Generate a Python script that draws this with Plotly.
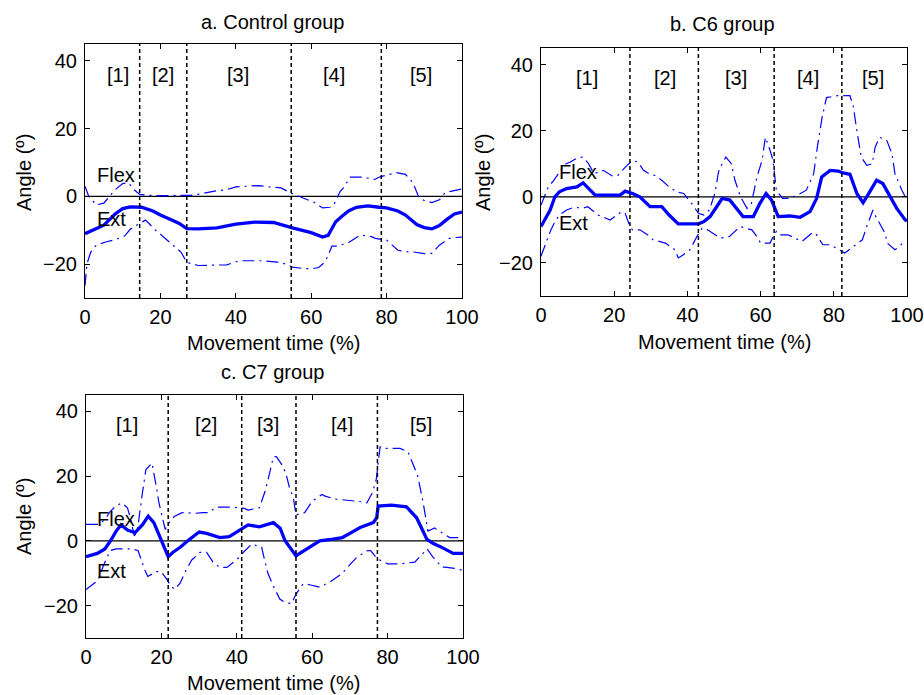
import plotly.graph_objects as go

# ---------------- data ----------------
# Panel a: Control group
a_mean_x = [0,2,5,8,10,12,15,18,20,23,25,27,30,35,40,45,50,55,60,63,64.5,65.5,66.5,68,70,72,75,78,80,83,85,88,90,92,94,96,98,100]
a_mean_y = [-11,-10,-8.5,-5.2,-3.6,-3.1,-3.2,-4.3,-5.5,-7,-8,-9.5,-9.6,-9.3,-8.2,-7.6,-7.7,-9.3,-10.7,-12,-11.5,-9.5,-7.5,-6,-4.2,-3.2,-2.8,-3.2,-3.4,-4.3,-5.5,-8.3,-9.2,-9.6,-8.6,-6.8,-5.2,-4.6]
a_up_x = [0,1,3,5,6.5,8,10,11.5,13,14.5,17,20,25,28,31,34,37.6,40,43,46,49,52,54.4,56,59,60.5,63,65,66,67.7,68.6,70.3,73.7,76.9,77.8,79,82.6,85,87,88.6,90,92,94,95.5,97,99,100]
a_up_y = [3,0,-2.5,-2,0,2,3.8,4,2,0.6,0.3,0.2,0.3,0.3,0.8,1.5,2,2.8,3,3.2,2.8,2.5,1.1,0.3,-1,-1.5,-3.4,-3.2,-2.5,1.5,2.6,5.7,5.7,5,5.6,6,7,6.5,4,-0.4,-1.2,-1.8,-1,1.1,1.5,2,2.2]
a_lo_x = [0,0.5,1.5,3,5.7,8,10.5,12,14,16,17,18.5,20,22,24,25.5,27,30,34,37.6,41,47,51,53.5,55,58,60.5,62,63.5,64.3,65.5,66.5,69.5,73,76,77,80,83,86,87,90,92,94,96.6,97.5,100]
a_lo_y = [-26.4,-20,-16.5,-14.4,-13.4,-12.8,-11.7,-9.7,-8.3,-7,-8,-9.8,-11.2,-13,-15,-16.5,-19.5,-20.4,-20.4,-20.2,-19,-19,-19.4,-20,-20.9,-21.3,-21.3,-21,-19.5,-17.9,-14.7,-14.7,-13.9,-11.4,-11.9,-12.4,-12.9,-15.9,-16.4,-16.4,-16.9,-16.8,-14.4,-12.4,-12.2,-12]
a_bounds = [14.5, 27, 54.7, 78.6]
a_phase_x = [8.7, 20.8, 40.7, 66, 89]

# Panel b: C6 group
b_mean_x = [0,1,2.5,3.8,5,7,9.8,11.5,13,14.8,18,21.6,23,25,27,29.8,33,35,37.5,40,43,44.5,46.2,48,49.5,51.6,53.5,55.2,58,59.8,61.5,63,64.8,68,70.8,73.5,75.3,76.7,79,81.2,82.5,84.4,86.3,88,89,91.7,93.4,95.4,97.2,99.5,100]
b_mean_y = [-9,-7,-4,0,1.5,2.5,3,4.2,2.5,0.5,0.5,0.5,1.7,1,0,-3,-3,-5.5,-8.2,-8.2,-8.2,-7.5,-6,-3,-0.5,-1,-3.5,-6,-6,-2,1,-1,-6,-5.8,-6.2,-4.5,-0.5,6,8,7.8,7.2,6.8,1,-1.8,0,5,4,0,-3.5,-7,-7.2]
b_up_x = [0,1,2,3.5,5,6.5,8,10,11.5,13,14.5,17,19.5,21,23.5,25,26.5,28,29.5,31,33,35,37,39,41.5,43,44.5,46,47.5,48.5,49.5,50.5,52,53,54.5,56.3,57.5,59,60.4,61.3,62.6,63.4,64.3,66,68,70,72.5,74.5,75.5,76.8,78,81,84.4,85.3,86.3,87.5,89,90.5,91.3,92.5,94.5,95.9,96.7,98.6,100]
b_up_y = [-2.5,0,3,5,7.5,9.8,10.5,11.8,12,10,7,8,6.3,6.5,9.5,11,10.5,8,7,6.5,5,3,1.5,1,-2.5,-5,-5.5,-4,1,7.5,10,12,10,5,0,-3.5,-2,6,11,18,14,11,2,-0.5,-0.5,0.5,2,7,15,24,30,30.6,30.6,27.5,20,12,9.5,10,15,18,17,13,7,2,-1]
b_lo_x = [0,1,2.7,3.6,5,7,9,11.5,12.8,15.6,18.9,22,23,24.3,25,27,29.8,30.6,32.5,34,36.6,37.5,38.8,40.7,42.6,44,45.5,47,49,51.5,54.4,57.6,59,60,62.6,63.4,64.3,65,67.5,71.3,74,75,77,79,82.2,83,86,87.8,89,90.7,91,93,94,94.6,96.7,98,99.5]
b_lo_y = [-18,-15,-10,-8,-5.5,-4,-3.2,-3.4,-3,-5.5,-7,-4.5,-5,-9,-10,-10,-12,-13,-13.5,-14,-16,-18.5,-17.6,-16,-12,-9.5,-10,-11,-12.5,-12,-9,-10,-12,-14,-14,-12,-10.5,-11.5,-11.5,-13.5,-11,-11,-14.5,-14.5,-16.5,-17,-14.5,-13,-9,-4,-5,-9,-11,-14,-16,-15,-13]
b_bounds = [24.3, 43, 63.7, 82.2]
b_phase_x = [12.6, 34, 53.3, 73, 90.7]

# Panel c: C7 group
c_mean_x = [0,3,5,6.5,8,9.3,11,13,15,16.5,18,20,21.8,23,25,27,30,32,35.5,38,40.8,43,46,49.7,51.5,52.8,55.7,57.5,59.4,62,65.5,68,70,72.7,76.2,77.1,77.5,81,85,87.7,90.4,92,94,97.4,100]
c_mean_y = [-4.9,-3.9,-2.5,0,3,4.9,3.3,2.5,5,7.6,5.6,0,-4.9,-3.6,-2,0,2.7,2.3,1,1.3,3.2,4.9,4.3,5.6,3.9,0,-4.6,-3.2,-1.8,0,0.5,1,2.3,4.1,5.6,7.1,10.7,11,10.5,7.1,0.5,-0.8,-1.8,-3.9,-3.9]
c_up_x = [0,3.5,5,6.4,8,9.5,11,12,12.8,13.6,14.9,15.9,17.5,18.3,18.8,19.3,20.4,21,22,23.4,25.5,29,31,32.5,34.6,39,42,43,46,47.5,48.5,49.7,50.5,52,53,54,55,55.7,58,60,62.6,63.4,66,70,73.5,74.5,76,77,78,78.9,83.3,85.4,86.7,88,89.4,90,90.7,92.5,93,96.5,100]
c_up_y = [5.1,5.1,6.5,9,10.8,11.7,10.2,6,1.5,3,14.3,22,24,19.4,15.8,12,7,3.5,5.5,7.5,8.7,8.5,8.7,8.7,10.4,10.4,10,9.5,10.2,15.3,19.9,25.9,26,23.4,20.9,16.3,13.3,8,8.7,12.2,14.3,13.8,12.9,12.5,12,11.7,14.9,19,29,28.5,28.5,27.5,23.5,20,12,8.2,3,4,3.5,1,1]
c_lo_x = [0,3.2,4.5,6.4,8,10,12,13.8,14.6,15.6,16.4,18.7,20,21.5,22.5,23.6,25,26.3,28,30.2,32,33.7,35.5,37.4,40.8,41.7,44,46.6,47.5,48.3,49.7,51.4,52.7,54.5,55.8,57.6,59,62,65,68,69,71.8,74.5,75.5,77.2,80,83.3,86.5,87.2,90.5,92,94.4,95.2,98.4,100]
c_lo_y = [-15,-12.2,-8,-3,-2.5,-2.5,-2.5,-3,-6,-9,-11,-9.5,-9.6,-12,-14,-15,-13,-9.6,-6,-3.6,-3.6,-6.6,-8.2,-8.2,-5,-3.6,-1,-2,-6.6,-10.2,-14,-18,-19,-19.4,-16.3,-13.3,-13.5,-14.3,-12.5,-10,-8.6,-5.1,-3.1,-3,-5.5,-7.1,-7.1,-6.6,-6.6,-2.5,-5,-8.1,-8.1,-8.6,-9.2]
c_bounds = [21.8, 41.3, 55.7, 77.3]
c_phase_x = [11, 31.8, 48.3, 68, 88.8]

phase_labels = ["[1]", "[2]", "[3]", "[4]", "[5]"]
x_ticks = [0, 20, 40, 60, 80, 100]
y_ticks = [-20, 0, 20, 40]
titles = ["a. Control group", "b. C6 group", "c. C7 group"]

# ---------------- figure ----------------
W, H = 924, 695
FONT = "Liberation Sans, Arial, sans-serif"
FS = 20
BLUE = "#0000ff"

# axes boxes in pixels: (left, right, top, bottom)
boxes = [(85, 462, 44, 298), (541, 907, 48, 296), (86, 463, 395, 638)]

panels = [
    (a_mean_x, a_mean_y, a_up_x, a_up_y, a_lo_x, a_lo_y, a_bounds, a_phase_x, (2.6, 6.3, -6.8)),
    (b_mean_x, b_mean_y, b_up_x, b_up_y, b_lo_x, b_lo_y, b_bounds, b_phase_x, (4.4, 7.5, -8.0)),
    (c_mean_x, c_mean_y, c_up_x, c_up_y, c_lo_x, c_lo_y, c_bounds, c_phase_x, (2.4, 6.6, -9.2)),
]

fig = go.Figure()
annotations = []
shapes = []
TXT = dict(family=FONT, size=FS, color="black")

for i, (panel, box) in enumerate(zip(panels, boxes)):
    mx, my, ux, uy, lx, ly, bounds, phx, flexext = panel
    n = "" if i == 0 else str(i + 1)
    xa, ya = "x" + n, "y" + n
    l, r, t, b = box
    axis_common = dict(showline=True, linecolor="black", linewidth=1, mirror="ticks",
                       ticks="inside", ticklen=5, tickcolor="black", showgrid=False,
                       zeroline=False, automargin=False, tickfont=TXT)
    fig.layout["xaxis" + n] = dict(domain=[l / W, r / W], anchor=ya, range=[0, 100],
                                   tickvals=x_ticks, ticklabelstandoff=1, **axis_common)
    fig.layout["yaxis" + n] = dict(domain=[1 - b / H, 1 - t / H], anchor=xa, range=[-30, 45],
                                   tickvals=y_ticks, ticklabelstandoff=3, **axis_common)

    # zero line
    fig.add_trace(go.Scatter(x=[0, 100], y=[0, 0], mode="lines", xaxis=xa, yaxis=ya,
                             line=dict(color="black", width=1.2), showlegend=False, hoverinfo="skip"))
    # SD lines
    for sx, sy in ((ux, uy), (lx, ly)):
        fig.add_trace(go.Scatter(x=sx, y=sy, mode="lines", xaxis=xa, yaxis=ya,
                                 line=dict(color=BLUE, width=1.2, dash="12px,5px,2px,5px"),
                                 showlegend=False))
    # mean
    fig.add_trace(go.Scatter(x=mx, y=my, mode="lines", xaxis=xa, yaxis=ya,
                             line=dict(color=BLUE, width=3.3), showlegend=False))
    # phase boundaries
    for bx in bounds:
        shapes.append(dict(type="line", xref=xa, yref=ya + " domain", x0=bx, x1=bx, y0=0, y1=1,
                           line=dict(color="black", width=1.5, dash="4px,3px")))
    # phase labels
    for px, lab in zip(phx, phase_labels):
        annotations.append(dict(x=px, y=35.8, xref=xa, yref=ya, text=lab, showarrow=False,
                                xanchor="center", yanchor="middle", font=TXT))
    fx, fy, ey = flexext
    annotations.append(dict(x=fx, y=fy, xref=xa, yref=ya, text="Flex", showarrow=False,
                            xanchor="left", yanchor="middle", font=TXT))
    annotations.append(dict(x=fx, y=ey, xref=xa, yref=ya, text="Ext", showarrow=False,
                            xanchor="left", yanchor="middle", font=TXT))

# titles and axis labels (paper coords)
title_pos = [(272, 22), (722, 24), (272, 372)]
xlab_pos = [(273.5, 343), (724, 342), (273.5, 683)]
ylab_pos = [(24, 173), (483, 173), (24, 517)]
for (tx, ty), (xx, xy), (yx, yy), ttl in zip(title_pos, xlab_pos, ylab_pos, titles):
    annotations.append(dict(x=tx / W, y=1 - ty / H, xref="paper", yref="paper", text=ttl,
                            xanchor="center", yanchor="middle", showarrow=False, font=TXT))
    annotations.append(dict(x=xx / W, y=1 - xy / H, xref="paper", yref="paper",
                            text="Movement time (%)", xanchor="center", yanchor="middle",
                            showarrow=False, font=TXT))
    annotations.append(dict(x=yx / W, y=1 - yy / H, xref="paper", yref="paper",
                            text="Angle (º)", textangle=-90, xanchor="center", yanchor="middle",
                            showarrow=False, font=TXT))

fig.update_layout(width=W, height=H, margin=dict(l=0, r=0, t=0, b=0, autoexpand=False),
                  paper_bgcolor="white", plot_bgcolor="white",
                  annotations=annotations, shapes=shapes, showlegend=False,
                  font=TXT)

fig.write_html("out.html", config={"displayModeBar": False},
               post_script="document.body.style.margin='0';document.body.style.overflow='hidden';")
